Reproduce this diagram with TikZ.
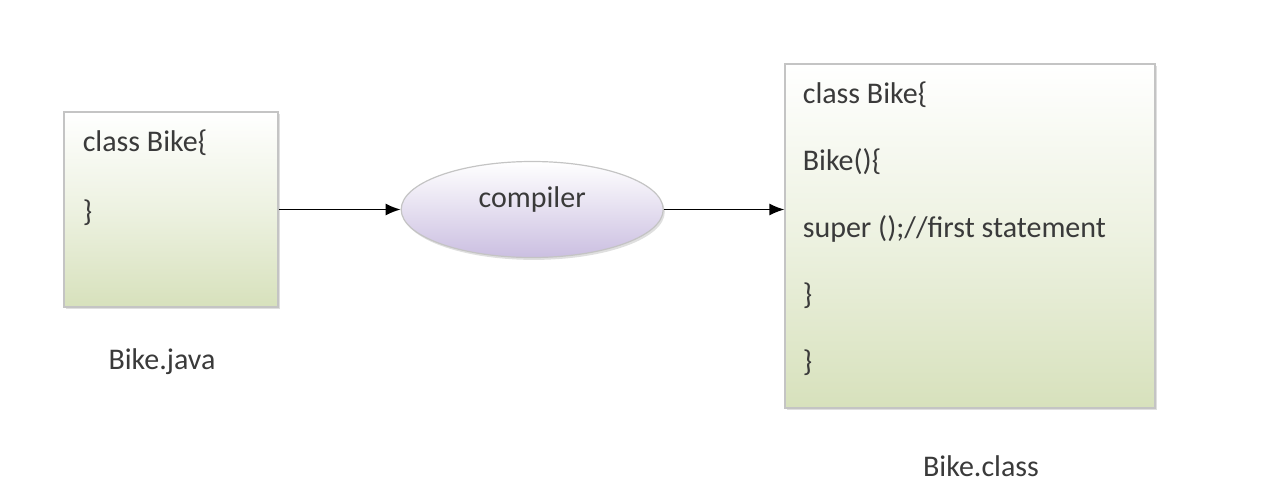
\documentclass[tikz,border=0pt]{standalone}
\usepackage{fontspec}
\setmainfont{Carlito}
\usetikzlibrary{arrows.meta,positioning,shapes.geometric,shadows}
\definecolor{boxgreen}{HTML}{D7E1BC}
\definecolor{ovallilac}{HTML}{CBBFE1}
\definecolor{edgegray}{HTML}{C4C4C4}
\definecolor{inkgray}{HTML}{3A3A3A}
\begin{document}
\begin{tikzpicture}[x=0.5pt,y=-0.5pt,font=\fontsize{15}{17}\selectfont,text=inkgray,
box/.style={draw=edgegray,line width=0.6pt,top color=white,bottom color=boxgreen,middle color=boxgreen!45,drop shadow={opacity=0.25,shadow xshift=0.8pt,shadow yshift=-1.2pt}},
oval/.style={ellipse,draw=edgegray,line width=0.6pt,top color=white,bottom color=ovallilac,inner sep=0pt,minimum width=131pt,minimum height=48pt,drop shadow={opacity=0.25,shadow xshift=0.8pt,shadow yshift=-1.2pt}},
code/.style={anchor=north west,inner sep=0pt,align=left},
arr/.style={-{Latex[length=7.5pt,width=6pt]},line width=0.7pt,black}]
\useasboundingbox (0,0) rectangle (1288,503);
\node[box,minimum width=107pt,minimum height=97.5pt] (src) at (171,209.5) {};
\node[oval,right=61pt of src,text depth=12pt] (c) {compiler};
\node[box,minimum width=185pt,minimum height=172pt] (dst) at (970,236) {};
\node[code,font=\fontsize{15}{35}\selectfont] (srctxt) at ([shift={(19,18)}]src.north west) {class Bike\{\\\}};
\node[code,font=\fontsize{15}{33.5}\selectfont] (dsttxt) at ([shift={(18,18)}]dst.north west) {class Bike\{\\Bike()\{\\super ();//first statement\\\}\\\}};
\node[below=17pt of src,xshift=-4.5pt] (srcname) {Bike.java};
\node[below=20pt of dst,xshift=5.5pt] (dstname) {Bike.class};
\draw[arr] (src) -- (c);
\draw[arr] (c.east) -- (c.east -| dst.west);
\end{tikzpicture}
\end{document}
